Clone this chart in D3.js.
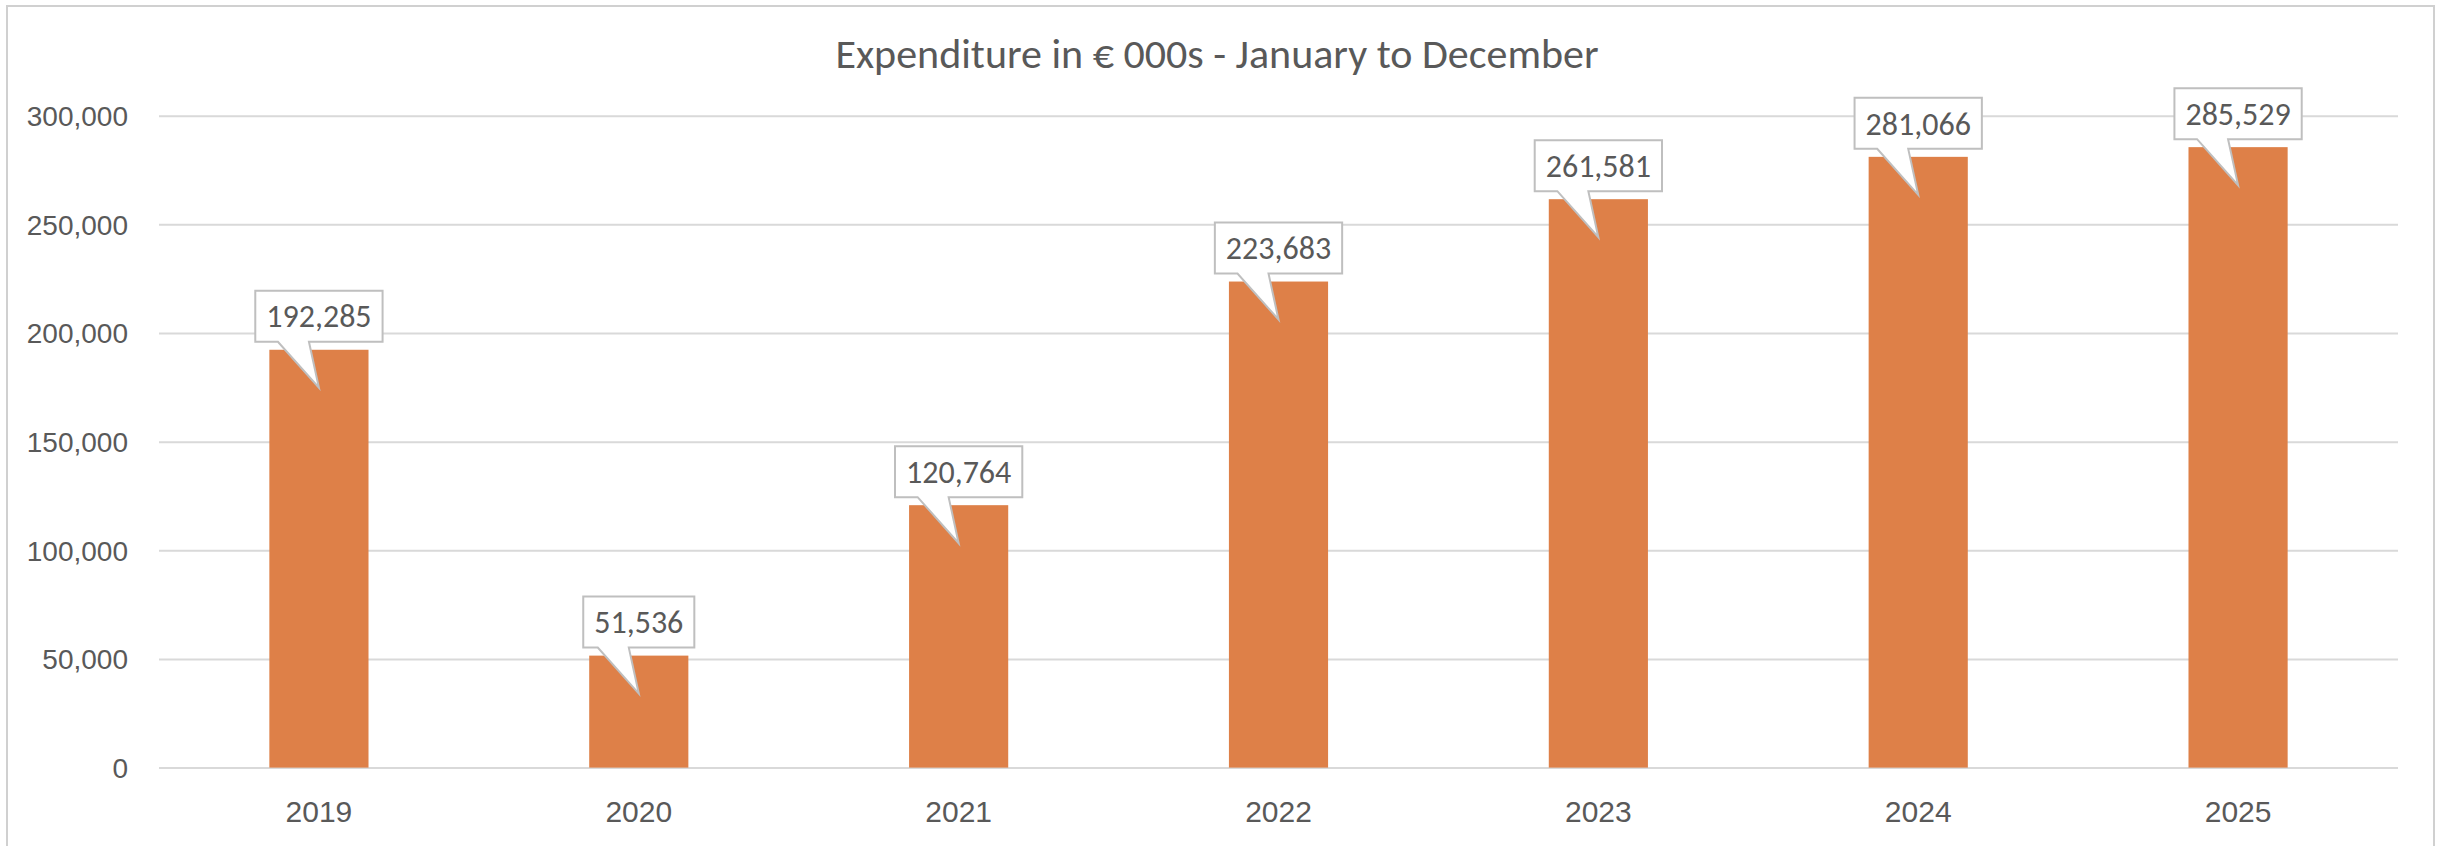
<!DOCTYPE html>
<html>
<head>
<meta charset="utf-8">
<script src="https://cdn.jsdelivr.net/npm/d3@7"></script>
<style>
  body { margin: 0; background: #fff; }
  svg { display: block; font-family: Carlito, Calibri, Lato, "Open Sans", sans-serif; }
  .grid line { stroke: #d9d9d9; stroke-width: 2; }
  .grid text { fill: #595959; font-size: 28px; }
  .xaxis text { fill: #595959; font-size: 30px; }
  .callout path { fill: #fff; stroke: #bfbfbf; stroke-width: 2; }
  .callout text { fill: #595959; font-size: 32px; }
</style>
</head>
<body>
<script>
var years = ["2019", "2020", "2021", "2022", "2023", "2024", "2025"];
var expenditure = [192285, 51536, 120764, 223683, 261581, 281066, 285529];
var yTicks = [0, 50000, 100000, 150000, 200000, 250000, 300000];
var chartTitle = "Expenditure in € 000s - January to December";

var W = 2438, H = 846;
var margin = { top: 115.7, right: 40, bottom: 78.4, left: 159 },
    width = W - margin.left - margin.right,
    height = H - margin.top - margin.bottom;

var data = years.map(function(y, i) { return { year: y, value: expenditure[i] }; });

var svg = d3.select("body").append("svg")
  .attr("width", W)
  .attr("height", H);

// chart border
svg.append("rect")
  .attr("x", 7).attr("y", 6)
  .attr("width", 2427).attr("height", 900)
  .attr("fill", "none")
  .attr("stroke", "#d0d0d0")
  .attr("stroke-width", 2);

svg.append("text")
  .attr("x", 1217)
  .attr("y", 68)
  .attr("text-anchor", "middle")
  .style("font-size", "42px")
  .style("font-weight", 300)
  .style("fill", "#595959")
  .text(chartTitle);

var g = svg.append("g")
  .attr("transform", "translate(" + margin.left + "," + margin.top + ")");

var x = d3.scaleBand()
  .domain(years)
  .range([0, width])
  .paddingInner(0.69)
  .paddingOuter(0.345);

var y = d3.scaleLinear()
  .domain([0, 300000])
  .range([height, 0]);

var yAxis = d3.axisLeft(y)
  .tickValues(yTicks)
  .tickSize(-width)
  .tickPadding(31)
  .tickFormat(d3.format(","));

g.append("g")
  .attr("class", "grid")
  .call(yAxis)
  .call(function(s) { s.select(".domain").remove(); })
  .selectAll("text")
  .attr("dy", "0.35em");

var xAxis = d3.axisBottom(x).tickSize(0).tickPadding(33);

g.append("g")
  .attr("class", "xaxis")
  .attr("transform", "translate(0," + height + ")")
  .call(xAxis)
  .call(function(s) { s.select(".domain").remove(); });

g.selectAll(".bar")
  .data(data)
  .enter().append("rect")
  .attr("class", "bar")
  .attr("x", function(d) { return x(d.year); })
  .attr("y", function(d) { return y(d.value); })
  .attr("width", x.bandwidth())
  .attr("height", function(d) { return height - y(d.value); })
  .attr("fill", "#de8048");

// callout labels
var fmt = d3.format(",");
var callouts = g.selectAll(".callout")
  .data(data)
  .enter().append("g")
  .attr("class", "callout")
  .attr("transform", function(d) {
    return "translate(" + (x(d.year) + x.bandwidth() / 2) + "," + y(d.value) + ")";
  });

callouts.append("path");
callouts.append("text")
  .attr("text-anchor", "middle")
  .attr("y", -33.5)
  .attr("dy", "0.35em")
  .text(function(d) { return fmt(d.value); });

callouts.each(function() {
  var c = d3.select(this);
  var tw = c.select("text").node().getComputedTextLength();
  var half = tw / 2 + 11, top = -59, bot = -8;
  var p = d3.path();
  p.moveTo(-half, top);
  p.lineTo(half, top);
  p.lineTo(half, bot);
  p.lineTo(-10, bot);
  p.lineTo(0, 38);
  p.lineTo(-41, bot);
  p.lineTo(-half, bot);
  p.closePath();
  c.select("path").attr("d", p.toString());
});
</script>
</body>
</html>
